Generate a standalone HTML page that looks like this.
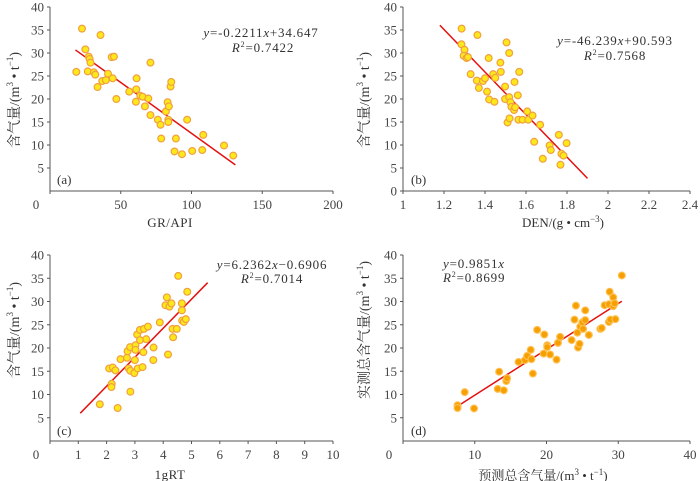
<!DOCTYPE html>
<html><head><meta charset="utf-8"><style>
html,body{margin:0;padding:0;background:#fff;}
svg{display:block;font-family:"Liberation Serif","Noto Serif CJK SC",serif;}
</style></head><body>
<svg id="c" width="700" height="481" viewBox="0 0 700 481" xmlns="http://www.w3.org/2000/svg"></svg>
<script>
const aX=[18.6,22.6,25,27.4,28,28.6,26.7,31,32,33.6,35.7,36.9,39.5,41,43.6,45.2,44.3,46.9,56,61,61.2,60.7,63.8,65.5,67.1,69.5,71,71,76.2,78.1,78.6,81.9,83.1,84,83.6,83.6,85.2,85.7,88,89,93.3,96.9,100.5,107.6,108.3,123,129.5];
const aY=[25.9,35.3,30.8,29.2,28.7,27.9,26,25.8,25.3,22.6,33.9,23.9,24.1,25.5,29.1,29.2,24.5,20,21.6,22.1,24.5,19.4,20.7,20.5,18.4,20.1,27.9,16.5,15.5,14.4,11.4,17.3,19.3,18.4,15.5,15,22.7,23.7,8.6,11.4,8,15.5,8.7,8.9,12.2,9.9,7.7];
const bX=[1.286,1.285,1.30,1.296,1.31,1.317,1.363,1.418,1.33,1.36,1.39,1.40,1.37,1.41,1.42,1.44,1.45,1.446,1.475,1.477,1.505,1.518,1.498,1.498,1.518,1.524,1.529,1.542,1.547,1.544,1.567,1.56,1.51,1.52,1.563,1.583,1.606,1.611,1.632,1.64,1.669,1.682,1.715,1.721,1.76,1.768,1.773,1.783,1.798];
const bY=[35.3,31.9,30.7,29.4,28.9,29.1,33.9,28.9,25.4,24,23.9,24.5,22.4,21.6,19.9,25.4,24.6,19.4,27.9,25.9,32.3,30,22.7,20,20.4,19.3,18.3,17.6,18.2,23.7,25.9,20.8,14.9,15.8,15.5,15.5,17.3,15.5,16.4,10.7,14.4,7.0,9.9,8.9,12.2,5.7,8.1,7.7,10.4];
const cX=[1.76,2.39,2.09,2.22,2.31,2.18,2.17,2.49,2.72,2.74,2.83,2.78,2.84,2.84,2.98,3.0,3.02,3.02,3.1,3.08,3.18,3.18,3.27,3.3,3.32,3.4,3.46,3.65,3.66,3.88,4.08,4.13,4.17,4.22,4.29,4.33,4.35,4.48,4.53,4.66,4.66,4.67,4.73,4.8,4.85];
const cY=[7.9,7.1,15.6,15.8,15.2,12.3,11.6,17.6,17.9,19.3,20.2,15.6,15.1,10.6,14.6,17.4,20.6,19.6,15.6,22.9,23.9,21.7,15.9,19.1,24.1,21.9,24.6,17.4,20.1,25.5,29.2,30.9,18.6,28.9,29.6,24.1,22.3,24.1,35.5,29.6,28.1,25.9,25.6,26.2,32.1];
const dX=[7.6,7.6,8.6,9.9,13.2,13.4,14.05,14.4,14.5,16.1,17,17.3,17.8,17.9,18.1,18.7,19.7,19.6,20.1,20.1,20.5,21.4,21.6,21.9,23.5,23.9,24.1,24.3,24.4,24.6,24.7,25,25.1,25.4,25.4,25.9,27.5,27.7,28.1,28.7,28.7,28.8,28.9,29.3,29.3,29.5,29.6,30.5];
const dY=[7.7,7.1,10.5,7.0,11.2,14.9,10.9,12.9,13.5,17,17.4,18.3,19.6,17.6,14.5,23.9,22.9,18.8,20.6,20.2,18.6,17.5,21.1,22.4,21.7,26.1,29.1,23.3,20.1,20.9,24.6,25.5,24.1,28.1,26,22.8,24.1,24.3,29.2,25.6,29.4,32.1,26.1,29,30.9,29.6,26.2,35.6];
const yTicks=[0,5,10,15,20,25,30,35,40];
const aXTicks=[0,50,100,150,200], bXTicks=[1,1.2,1.4,1.6,1.8,2,2.2,2.4], cXTicks=[0,1,2,3,4,5,6,7,8,9,10], dXTicks=[0,10,20,30,40];
const bXLabels=["1","1.2","1.4","1.6","1.8","2","2.2","2.4"];
const NS="http://www.w3.org/2000/svg", svg=document.getElementById('c');
function mk(t,a,p){const e=document.createElementNS(NS,t);for(const k in a)e.setAttribute(k,a[k]);(p||svg).appendChild(e);return e;}
function panel(o){
  const g=mk('g',{});
  
  
  const sx=v=>o.x0+(v-o.xmin)/(o.xmax-o.xmin)*(o.x1-o.x0);
  const sy=v=>o.y0-(v-0)/40*(o.y0-o.y1);
  const ax=mk('path',{d:`M${o.x0},${o.y1} V${o.y0} H${o.x1}`,stroke:'#555',fill:'none','stroke-width':1},g);
   
  yTicks.forEach(t=>{
    if(t===0&&!o.showY0)return;
    mk('line',{x1:o.x0-3,x2:o.x0,y1:sy(t),y2:sy(t),stroke:'#555'},g);
    const tx=mk('text',{x:o.x0-6,y:sy(t)+4.5,'text-anchor':'end','font-size':13,fill:'#444'},g);tx.textContent=t;
     
  });
  o.xt.forEach((t,i)=>{
    mk('line',{x1:sx(t),x2:sx(t),y1:o.y0,y2:o.y0+3,stroke:'#555'},g);
    let x=sx(t); if(i===0&&o.shift0)x-=14;
    const tx=mk('text',{x:x,y:o.y0+18,'text-anchor':'middle','font-size':13,fill:'#444'},g);tx.textContent=o.xl?o.xl[i]:t;
     
  });
  const ln=mk('line',{x1:sx(o.lx[0]),y1:sy(o.f(o.lx[0])),x2:sx(o.lx[1]),y2:sy(o.f(o.lx[1])),stroke:'#e41010','stroke-width':1.5},g);
   
  o.X.forEach((v,i)=>{
    const c=mk('circle',{cx:sx(v),cy:sy(o.Y[i]),r:3.4,fill:o.fill,stroke:o.stroke,'stroke-width':1.2},g);
     
  });
  o.texts.forEach(t=>{
    const tx=mk('text',{x:t[0],y:t[1],'text-anchor':t[3]||'middle','font-size':t[4]||13,fill:'#333','letter-spacing':t[6]||0},g);
    tx.innerHTML=t[2];
     
  });
}
const mt='(m<tspan font-size="9" dy="-5">3</tspan><tspan dy="5"> • t</tspan><tspan font-size="9" dy="-5">−1</tspan><tspan dy="5">)</tspan>';
panel({id:'a',x0:50,x1:333,y0:191,y1:7,xmin:0,xmax:200,xt:aXTicks,shift0:true,X:aX,Y:aY,f:x=>-0.2211*x+34.647,lx:[18,131],fill:'#ffe81a',stroke:'#f0a040',
 texts:[[261,37,'<tspan font-style="italic">y</tspan>=-0.2211<tspan font-style="italic">x</tspan>+34.647','middle',13,'equation',0.8],[263,52,'<tspan font-style="italic">R</tspan><tspan font-size="8" dy="-5">2</tspan><tspan dy="5">=0.7422</tspan>','middle',13,'r-squared',0.8],[57,184,'(a)','start',13,'panel-label'],[170,227,'GR/API','middle',13,'x-axis-title',0.5]]});
panel({id:'b',x0:403,x1:690,y0:191,y1:7,xmin:1,xmax:2.4,xt:bXTicks,xl:bXLabels,showY0:true,X:bX,Y:bY,f:x=>-46.239*x+90.593,lx:[1.18,1.9],fill:'#ffe81a',stroke:'#f0a040',
 texts:[[615,45,'<tspan font-style="italic">y</tspan>=-46.239<tspan font-style="italic">x</tspan>+90.593','middle',13,'equation',0.8],[615,60,'<tspan font-style="italic">R</tspan><tspan font-size="8" dy="-5">2</tspan><tspan dy="5">=0.7568</tspan>','middle',13,'r-squared',0.8],[411,184,'(b)','start',13,'panel-label'],[563,227,'DEN/(g • cm<tspan font-size="9" dy="-5">−3</tspan><tspan dy="5">)</tspan>','middle',13,'x-axis-title']]});
panel({id:'c',x0:50,x1:333,y0:441,y1:255,xmin:0,xmax:10,xt:cXTicks,shift0:true,X:cX,Y:cY,f:x=>6.2362*x-0.6906,lx:[1.07,5.57],fill:'#ffe81a',stroke:'#f0a040',
 texts:[[272,269,'<tspan font-style="italic">y</tspan>=6.2362<tspan font-style="italic">x</tspan>−0.6906','middle',13,'equation',0.8],[272,283,'<tspan font-style="italic">R</tspan><tspan font-size="8" dy="-5">2</tspan><tspan dy="5">=0.7014</tspan>','middle',13,'r-squared',0.8],[57,435,'(c)','start',13,'panel-label'],[170,479,'1gRT','middle',13,'x-axis-title',0.5]]});
panel({id:'d',x0:403,x1:690,y0:441,y1:255,xmin:0,xmax:40,xt:dXTicks,shift0:true,X:dX,Y:dY,f:x=>0.9851*x,lx:[7.7,30.5],fill:'#f5a000',stroke:'#ffbf50',
 texts:[[443,268,'<tspan font-style="italic">y</tspan>=0.9851<tspan font-style="italic">x</tspan>','start',13,'equation',0.8],[443,282,'<tspan font-style="italic">R</tspan><tspan font-size="8" dy="-5">2</tspan><tspan dy="5">=0.8699</tspan>','start',13,'r-squared',0.8],[411,435,'(d)','start',13,'panel-label'],[543,480,'预测总含气量/'+mt,'middle',13,'x-axis-title']]});
[[16,100,'含气量/'],[366,100,'含气量/'],[16,330,'含气量/'],[366,330,'实测总含气量/']].forEach(t=>{
  const tx=mk('text',{x:t[0],y:t[1],transform:`rotate(-90 ${t[0]} ${t[1]})`,'text-anchor':'middle','font-size':14,fill:'#333','dominant-baseline':'middle'});
  tx.innerHTML=t[2]+mt;
  
  
});
</script>
</body></html>
